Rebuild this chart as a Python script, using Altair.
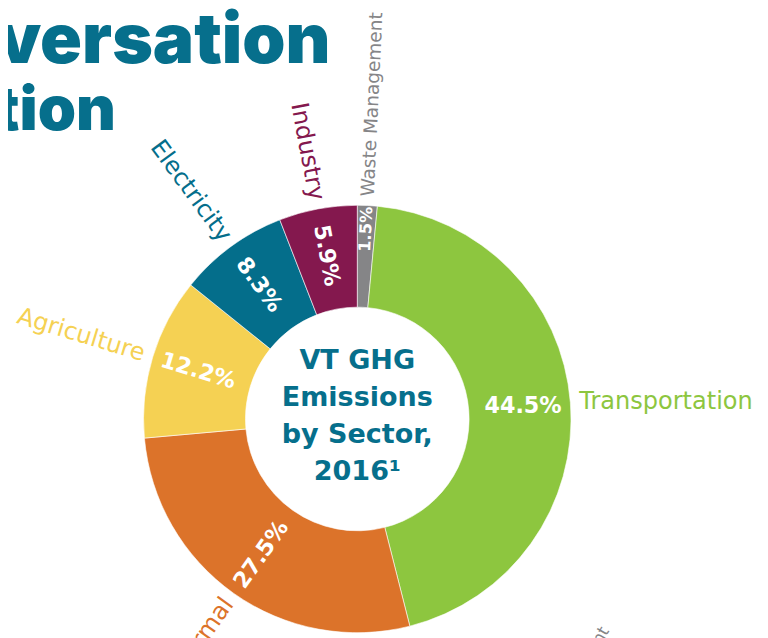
import altair as alt
import pandas as pd

# ---- data ----
sectors = ["Waste Management", "Transportation", "Thermal", "Agriculture", "Electricity", "Industry"]
shares = [1.5, 44.5, 27.5, 12.2, 8.3, 5.9]
sector_colors = ["#858587", "#8dc63f", "#dc732a", "#f5d153", "#046e8b", "#84184e"]
center_title = ["VT GHG", "Emissions", "by Sector,", "2016\u00b9"]
page_title = ["Conversation", "Action"]
teal = "#066f8c"
FONT = "DejaVu Sans"
TITLE_FONT = "Inter"

df = pd.DataFrame({
    "sector": sectors,
    "share": shares,
    "order": list(range(len(sectors))),
    "pct": [f"{s}%" for s in shares],
})

CX, CY = 353, 412  # donut centre in chart coordinates
R_OUT, R_IN = 216, 113

color_scale = alt.Scale(domain=sectors, range=sector_colors)

base = (
    alt.Chart(df)
    .transform_window(cum="sum(share)", sort=[alt.SortField("order")], frame=[None, 0])
    .transform_joinaggregate(total="sum(share)")
    .transform_calculate(
        start="(datum.cum - datum.share) / datum.total * 360",
        end="datum.cum / datum.total * 360",
        mid="(datum.cum - datum.share / 2) / datum.total * 360",
    )
    .transform_calculate(
        rot="(datum.mid > 60 && datum.mid < 120) ? 0 : ((((datum.mid < 180 ? datum.mid - 90 : datum.mid + 90) % 360) + 360) % 360)",
        side="datum.mid < 180 ? 'right' : 'left'",
        inr="datum.share < 3 ? 192 : 168",
        infs="datum.share < 3 ? 16.5 : 22.5",
        outfs="datum.share < 3 ? 18.7 : 24.3",
    )
)

theta_scale = alt.Scale(domain=[0, 360], range=[0, 6.283185307179586])

arcs = base.mark_arc(radius=R_OUT, radius2=R_IN, stroke="white", strokeWidth=0.6).encode(
    theta=alt.Theta("start:Q", scale=theta_scale),
    theta2="end:Q",
    color=alt.Color("sector:N", scale=color_scale, legend=None),
    x=alt.value(CX),
    y=alt.value(CY),
)

pct = base.mark_text(font=FONT, fontWeight="bold", color="white", baseline="middle", align="center").encode(
    theta=alt.Theta("mid:Q", scale=theta_scale),
    radius=alt.Radius("inr:Q", scale=None),
    angle=alt.Angle("rot:Q", scale=None),
    size=alt.Size("infs:Q", scale=None),
    text="pct:N",
    x=alt.value(CX),
    y=alt.value(CY),
)

def outer(side, align):
    return base.transform_filter(f"datum.side == '{side}'").mark_text(
        font=FONT, fontWeight=400, baseline="middle", align=align
    ).encode(
        theta=alt.Theta("mid:Q", scale=theta_scale),
        radius=alt.value(225),
        angle=alt.Angle("rot:Q", scale=None),
        size=alt.Size("outfs:Q", scale=None),
        color=alt.Color("sector:N", scale=color_scale, legend=None),
        text="sector:N",
        x=alt.value(CX),
        y=alt.value(CY),
    )

center = alt.Chart(pd.DataFrame({"t": ["\n".join(center_title)]})).mark_text(
    font=FONT, fontWeight="bold", fontSize=27.3, lineHeight=37.5, color=teal,
    align="center", baseline="middle", lineBreak="\n",
).encode(text="t:N", x=alt.value(CX), y=alt.value(CY - 59))

title1 = alt.Chart(pd.DataFrame({"t": [page_title[0]]})).mark_text(
    font=TITLE_FONT, fontWeight=900, fontSize=70, color=teal, align="right", baseline="alphabetic",
).encode(text="t:N", x=alt.value(326), y=alt.value(52))
title2 = alt.Chart(pd.DataFrame({"t": [page_title[1]]})).mark_text(
    font=TITLE_FONT, fontWeight=900, fontSize=62, color=teal, align="right", baseline="alphabetic",
).encode(text="t:N", x=alt.value(109), y=alt.value(120))

stray = alt.Chart(pd.DataFrame({"t": ["Management"]})).mark_text(
    font=FONT, fontSize=17, color="#858587", align="right", baseline="alphabetic", angle=300,
).encode(text="t:N", x=alt.value(608), y=alt.value(626))

chart = (
    alt.layer(arcs, pct, outer("right", "left"), outer("left", "right"), center, title1, title2, stray)
    .properties(width=760, height=630, padding=0, autosize=alt.AutoSizeParams(type="none"))
    .configure_view(stroke=None)
)

chart.save("out.html", embed_options={"renderer": "svg", "actions": False})
